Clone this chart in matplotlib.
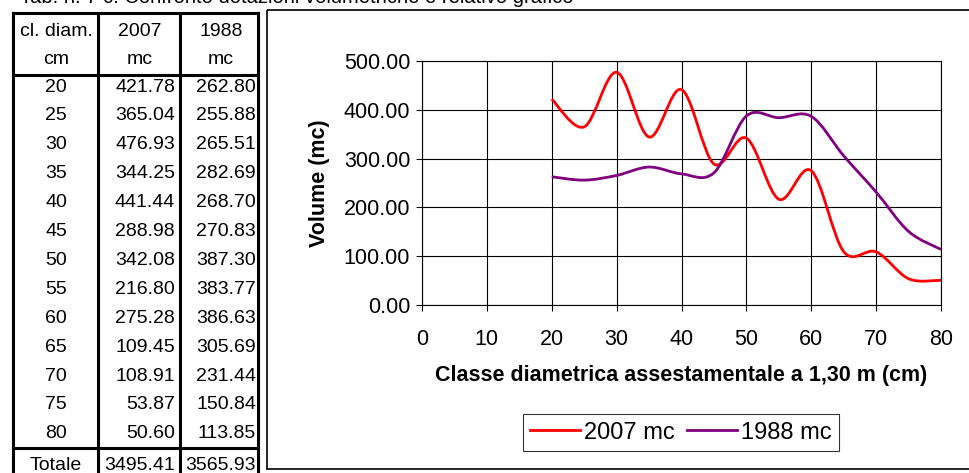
import numpy as np
import matplotlib
matplotlib.use('Agg')
import matplotlib.pyplot as plt
from matplotlib.path import Path
from matplotlib.patches import PathPatch, Rectangle
from matplotlib.lines import Line2D

plt.rcParams['font.family'] = ['Liberation Sans', 'DejaVu Sans']

# dati della tabella
title = 'Tab. n. 7 c: Confronto dotazioni volumetriche e relativo grafico'
diam = [20, 25, 30, 35, 40, 45, 50, 55, 60, 65, 70, 75, 80]
vol_2007 = [421.78, 365.04, 476.93, 344.25, 441.44, 288.98, 342.08,
            216.80, 275.28, 109.45, 108.91, 53.87, 50.60]
vol_1988 = [262.80, 255.88, 265.51, 282.69, 268.70, 270.83, 387.30,
            383.77, 386.63, 305.69, 231.44, 150.84, 113.85]
col_head1 = ['cl. diam.', '2007', '1988']
col_head2 = ['cm', 'mc', 'mc']
series_names = ['2007 mc', '1988 mc']
xticks = [0, 10, 20, 30, 40, 50, 60, 70, 80]
yticks = [0, 100, 200, 300, 400, 500]

W, H = 970, 473
fig = plt.figure(figsize=(W / 100, H / 100), dpi=100)

# asse in pixel per tabella e cornici
tax = fig.add_axes([0, 0, 1, 1])
tax.set_xlim(0, W)
tax.set_ylim(H, 0)
tax.axis('off')

fig.text(20 / W, 1 - 3 / H, title, fontsize=14.5, va='baseline', ha='left')

# griglia della tabella
lw = 2.2
xs = [13, 98, 180, 258]
for x in xs:
    tax.plot([x, x], [13, H + 5], color='k', lw=lw, solid_capstyle='projecting')
for y in [13, 75, 448]:
    tax.plot([xs[0], xs[-1]], [y, y], color='k', lw=lw, solid_capstyle='projecting')

fs = 14
col_c = [56, 140, 221]
for j in range(3):
    tax.text(col_c[j], 32, col_head1[j], fontsize=fs, ha='center', va='center')
    tax.text(col_c[j], 60, col_head2[j], fontsize=fs, ha='center', va='center')

row_y0, row_h = 87, 28.9
for i in range(len(diam)):
    y = row_y0 + i * row_h
    tax.text(col_c[0], y, str(diam[i]), fontsize=fs, ha='center', va='center')
    tax.text(175, y, '%.2f' % vol_2007[i], fontsize=fs, ha='right', va='center')
    tax.text(256, y, '%.2f' % vol_1988[i], fontsize=fs, ha='right', va='center')
tax.text(col_c[0], 465, 'Totale', fontsize=fs, ha='center', va='center')
tax.text(175, 465, '%.2f' % sum(vol_2007), fontsize=fs, ha='right', va='center')
tax.text(256, 465, '%.2f' % sum(vol_1988), fontsize=fs, ha='right', va='center')

# cornice del grafico
tax.add_patch(Rectangle((267, 10), 720, 459, fill=False, ec='k', lw=1.2))

# grafico
ax = fig.add_axes([422 / W, 1 - 305 / H, 519 / W, 244 / H])
ax.set_xlim(0, 80)
ax.set_ylim(0, 500)
ax.set_xticks(xticks)
ax.set_yticks(yticks)
ax.set_yticklabels(['%.2f' % v for v in yticks])
ax.grid(True, color='k', lw=0.8)
ax.set_axisbelow(True)
ax.tick_params(labelsize=15.5, length=4.5, width=0.8, color='k')
ax.tick_params(axis='x', pad=13)
ax.tick_params(axis='y', pad=4)
for s in ax.spines.values():
    s.set_linewidth(0.8)


def smooth_path(x, y):
    # curva smussata tipo Excel (Bezier cubica, Catmull-Rom)
    pts = np.column_stack([x, y]).astype(float)
    n = len(pts)
    verts = [pts[0]]
    codes = [Path.MOVETO]
    for i in range(n - 1):
        p0 = pts[i - 1] if i > 0 else pts[i]
        p1 = pts[i]
        p2 = pts[i + 1]
        p3 = pts[i + 2] if i + 2 < n else pts[i + 1]
        verts += [p1 + (p2 - p0) / 6, p2 - (p3 - p1) / 6, p2]
        codes += [Path.CURVE4] * 3
    return Path(verts, codes)


colors = ['#ff0000', '#800080']
for vals, c in zip([vol_2007, vol_1988], colors):
    ax.add_patch(PathPatch(smooth_path(diam, vals), fill=False, ec=c, lw=2,
                           transform=ax.transData, clip_on=False))

ax.set_xlabel('Classe diametrica assestamentale a 1,30 m (cm)',
              fontsize=15.5, fontweight='bold')
ax.xaxis.set_label_coords(0.5, -0.246)
ax.set_ylabel('Volume (mc)', fontsize=15.5, fontweight='bold')
ax.yaxis.set_label_coords(-0.178, 0.5)

handles = [Line2D([], [], color=c, lw=2) for c in colors]
leg = ax.legend(handles, series_names, loc='center', ncol=2,
                bbox_to_anchor=(681 / W, 1 - 432.5 / H),
                bbox_transform=fig.transFigure, fontsize=17,
                frameon=True, fancybox=False, edgecolor='k',
                handlelength=2.1, handletextpad=0.2, columnspacing=0.5,
                borderpad=0.3, borderaxespad=0)
leg.get_frame().set_linewidth(0.8)

fig.savefig('out.png', dpi=100)
